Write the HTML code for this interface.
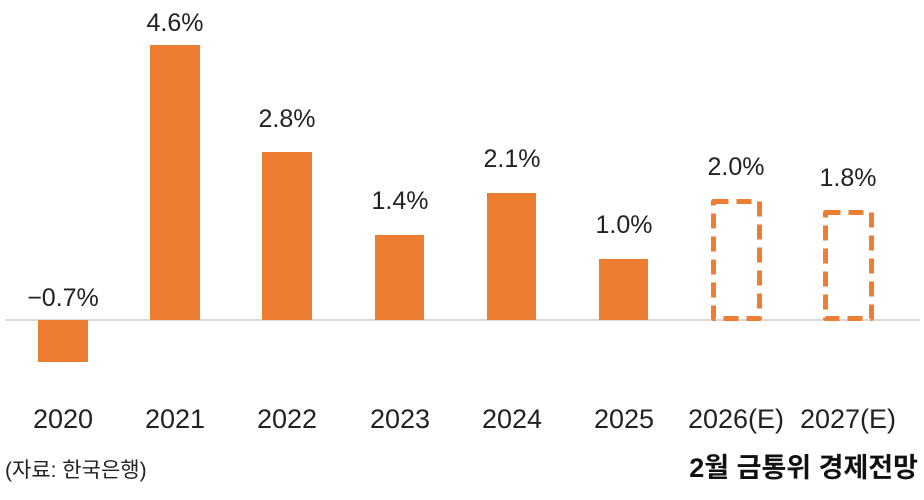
<!DOCTYPE html>
<html><head><meta charset="utf-8"><style>
html,body{margin:0;padding:0;background:#fff;}
</style></head><body>
<svg width="924" height="500" xmlns="http://www.w3.org/2000/svg" style="display:block">
<line x1="5" y1="320" x2="920" y2="320" stroke="#d9d9d9" stroke-width="2"/>
<g fill="#ed7d31">
<rect x="38" y="320" width="50" height="42"/>
<rect x="150" y="45" width="50" height="275"/>
<rect x="262" y="152" width="50" height="168"/>
<rect x="375" y="235" width="49" height="85"/>
<rect x="487" y="193" width="49" height="127"/>
<rect x="599" y="259" width="49" height="61"/>
</g>
<g fill="none" stroke="#ed7d31" stroke-width="5" stroke-dasharray="15,8" stroke-linejoin="round">
<rect x="713.5" y="201.5" width="46" height="117"/>
<rect x="825.5" y="212.5" width="46" height="106"/>
</g>
<g font-family="Liberation Sans, Noto Sans CJK KR, sans-serif" font-size="25" fill="#222" text-anchor="middle">
<text x="63" y="306">−0.7%</text>
<text x="175" y="31">4.6%</text>
<text x="287" y="127">2.8%</text>
<text x="400" y="209">1.4%</text>
<text x="512" y="167">2.1%</text>
<text x="624" y="233">1.0%</text>
<text x="736" y="175">2.0%</text>
<text x="848" y="186">1.8%</text>
</g>
<g font-family="Liberation Sans, Noto Sans CJK KR, sans-serif" font-size="27" fill="#222" text-anchor="middle">
<text x="63" y="428">2020</text>
<text x="175" y="428">2021</text>
<text x="287" y="428">2022</text>
<text x="400" y="428">2023</text>
<text x="512" y="428">2024</text>
<text x="624" y="428">2025</text>
<text x="736" y="428">2026(E)</text>
<text x="848" y="428">2027(E)</text>
</g>
<text x="5" y="477" font-family="Liberation Sans, Noto Sans CJK KR, sans-serif" font-size="21" fill="#222">(자료: 한국은행)</text>
<text x="918" y="477" text-anchor="end" font-family="Liberation Sans, Noto Sans CJK KR, sans-serif" font-size="27" font-weight="bold" fill="#111">2월 금통위 경제전망</text>
</svg>
</body></html>
